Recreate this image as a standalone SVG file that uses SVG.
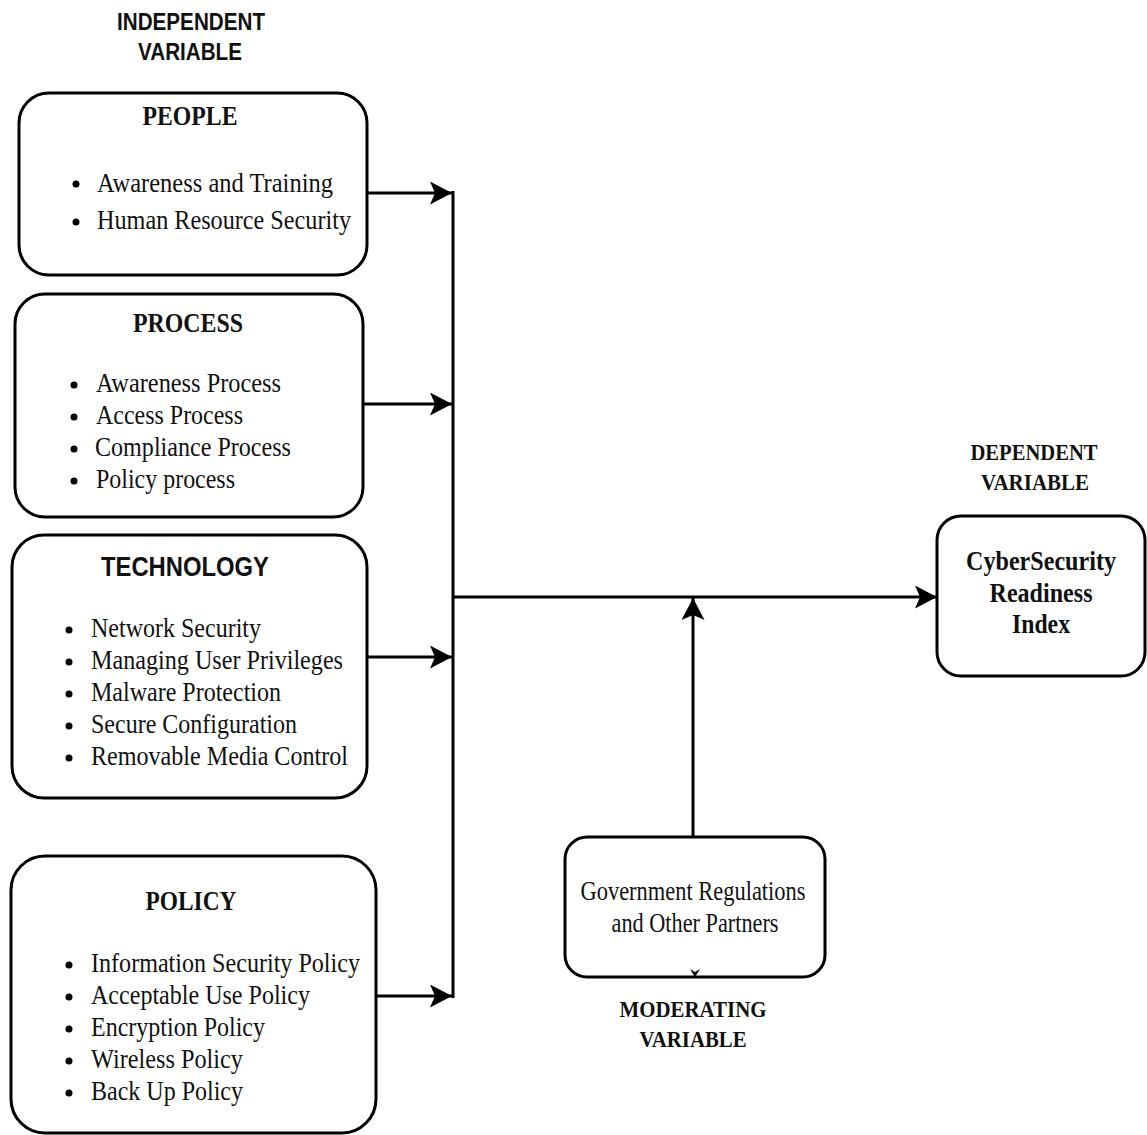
<svg xmlns="http://www.w3.org/2000/svg" width="1147" height="1135" viewBox="0 0 1147 1135">
<defs>
<style>
.box{fill:#fff;stroke:#000;stroke-width:3}
.t{font-family:"Liberation Serif","Times New Roman",serif;font-size:28px;fill:#111}
.h{font-family:"Liberation Serif","Times New Roman",serif;font-size:27px;font-weight:bold;fill:#111;text-anchor:middle}
.hs{font-family:"Liberation Sans",Arial,sans-serif;font-weight:bold;fill:#111;text-anchor:middle}
.lab{font-family:"Liberation Serif","Times New Roman",serif;font-size:23px;font-weight:bold;fill:#111;text-anchor:middle}
.ln{stroke:#000;stroke-width:3;fill:none}
</style>
<marker id="ah" markerUnits="userSpaceOnUse" markerWidth="24" markerHeight="24" refX="22" refY="11.5" orient="auto">
<path d="M0,0 L22,11.5 L0,23 L5,11.5 z" fill="#000"/>
</marker>
</defs>

<text class="hs" x="191" y="30" font-size="23" textLength="148" lengthAdjust="spacingAndGlyphs">INDEPENDENT</text>
<text class="hs" x="190" y="60" font-size="23" textLength="104" lengthAdjust="spacingAndGlyphs">VARIABLE</text>

<g id="people">
<rect class="box" x="19" y="93" width="348" height="182" rx="30"/>
<text class="h" x="190" y="125" textLength="95" lengthAdjust="spacingAndGlyphs">PEOPLE</text>
<circle cx="76" cy="184" r="3.5"/><text class="t" x="97" y="192" textLength="236" lengthAdjust="spacingAndGlyphs">Awareness and Training</text>
<circle cx="76" cy="222" r="3.5"/><text class="t" x="97" y="229" textLength="254" lengthAdjust="spacingAndGlyphs">Human Resource Security</text>
</g>

<g id="process">
<rect class="box" x="15" y="294" width="348" height="223" rx="30"/>
<text class="h" x="188" y="332" textLength="110" lengthAdjust="spacingAndGlyphs">PROCESS</text>
<circle cx="74" cy="385" r="3.5"/><text class="t" x="96" y="392" textLength="185" lengthAdjust="spacingAndGlyphs">Awareness Process</text>
<circle cx="74" cy="417" r="3.5"/><text class="t" x="96" y="424" textLength="147" lengthAdjust="spacingAndGlyphs">Access Process</text>
<circle cx="74" cy="449" r="3.5"/><text class="t" x="95" y="456" textLength="196" lengthAdjust="spacingAndGlyphs">Compliance Process</text>
<circle cx="74" cy="481" r="3.5"/><text class="t" x="96" y="488" textLength="139" lengthAdjust="spacingAndGlyphs">Policy process</text>
</g>

<g id="technology">
<rect class="box" x="12" y="535" width="355" height="263" rx="32"/>
<text class="hs" x="185" y="576" font-size="27" textLength="168" lengthAdjust="spacingAndGlyphs">TECHNOLOGY</text>
<circle cx="69" cy="630" r="3.5"/><text class="t" x="91" y="637" textLength="170" lengthAdjust="spacingAndGlyphs">Network Security</text>
<circle cx="69" cy="662" r="3.5"/><text class="t" x="91" y="669" textLength="252" lengthAdjust="spacingAndGlyphs">Managing User Privileges</text>
<circle cx="69" cy="694" r="3.5"/><text class="t" x="91" y="701" textLength="190" lengthAdjust="spacingAndGlyphs">Malware Protection</text>
<circle cx="69" cy="726" r="3.5"/><text class="t" x="91" y="733" textLength="206" lengthAdjust="spacingAndGlyphs">Secure Configuration</text>
<circle cx="69" cy="758" r="3.5"/><text class="t" x="91" y="765" textLength="257" lengthAdjust="spacingAndGlyphs">Removable Media Control</text>
</g>

<g id="policy">
<rect class="box" x="11" y="856" width="365" height="277" rx="34"/>
<text class="h" x="191" y="910" textLength="91" lengthAdjust="spacingAndGlyphs">POLICY</text>
<circle cx="69" cy="965" r="3.5"/><text class="t" x="91" y="972" textLength="269" lengthAdjust="spacingAndGlyphs">Information Security Policy</text>
<circle cx="69" cy="997" r="3.5"/><text class="t" x="91" y="1004" textLength="219" lengthAdjust="spacingAndGlyphs">Acceptable Use Policy</text>
<circle cx="69" cy="1029" r="3.5"/><text class="t" x="91" y="1036" textLength="174" lengthAdjust="spacingAndGlyphs">Encryption Policy</text>
<circle cx="69" cy="1061" r="3.5"/><text class="t" x="91" y="1068" textLength="152" lengthAdjust="spacingAndGlyphs">Wireless Policy</text>
<circle cx="69" cy="1093" r="3.5"/><text class="t" x="91" y="1100" textLength="152" lengthAdjust="spacingAndGlyphs">Back Up Policy</text>
</g>

<g id="dependent">
<text class="lab" x="1034" y="460" textLength="127" lengthAdjust="spacingAndGlyphs">DEPENDENT</text>
<text class="lab" x="1035" y="490" textLength="108" lengthAdjust="spacingAndGlyphs">VARIABLE</text>
<rect class="box" x="937" y="516" width="208" height="160" rx="24"/>
<text class="h" x="1041" y="570" font-size="26" textLength="150" lengthAdjust="spacingAndGlyphs">CyberSecurity</text>
<text class="h" x="1041" y="602" font-size="26" textLength="103" lengthAdjust="spacingAndGlyphs">Readiness</text>
<text class="h" x="1041" y="633" font-size="26" textLength="58" lengthAdjust="spacingAndGlyphs">Index</text>
</g>

<g id="moderating">
<rect class="box" x="565" y="837" width="260" height="140" rx="22"/>
<text class="t" x="693" y="900" font-size="25" text-anchor="middle" textLength="225" lengthAdjust="spacingAndGlyphs">Government Regulations</text>
<text class="t" x="695" y="932" font-size="25" text-anchor="middle" textLength="167" lengthAdjust="spacingAndGlyphs">and Other Partners</text>
<path d="M690,969 L695,977 L700,969 L695,972 z" fill="#000"/>
<text class="lab" x="693" y="1017" textLength="147" lengthAdjust="spacingAndGlyphs">MODERATING</text>
<text class="lab" x="693" y="1047" textLength="107" lengthAdjust="spacingAndGlyphs">VARIABLE</text>
</g>

<g id="connectors">
<line class="ln" x1="367" y1="193" x2="452" y2="193" marker-end="url(#ah)"/>
<line class="ln" x1="363" y1="404" x2="452" y2="404" marker-end="url(#ah)"/>
<line class="ln" x1="367" y1="657" x2="452" y2="657" marker-end="url(#ah)"/>
<line class="ln" x1="376" y1="996" x2="452" y2="996" marker-end="url(#ah)"/>
<line class="ln" x1="453" y1="191" x2="453" y2="998"/>
<line class="ln" x1="453" y1="597" x2="937" y2="597" marker-end="url(#ah)"/>
<line class="ln" x1="693" y1="837" x2="693" y2="598" marker-end="url(#ah)"/>
</g>
</svg>
